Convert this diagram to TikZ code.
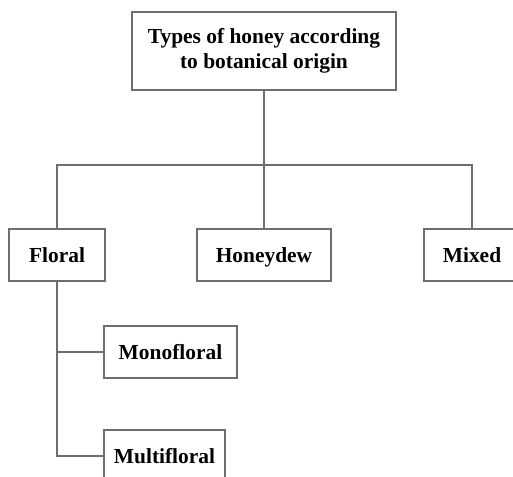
\documentclass[tikz,border=0pt]{standalone}
\usepackage{fontspec}
\setmainfont{Liberation Serif}
\begin{document}
\begin{tikzpicture}[x=1bp,y=-1bp,
  box/.style={draw=linegray,line width=1.4bp,fill=white,inner sep=0pt,align=center,
    font=\fontsize{21.5}{25}\selectfont\bfseries},
  leaf/.style={box,text height=14.3bp,text depth=0pt,minimum height=52bp},
  conn/.style={draw=linegray,line width=1.4bp}]
\definecolor{linegray}{RGB}{110,110,110}
\useasboundingbox (0,0) rectangle (513,477);
\clip (0,0) rectangle (513,477);
\node[box,minimum width=264bp,minimum height=78bp] (top) at (264,51) {Types of honey according\\to botanical origin};
\node[leaf,minimum width=96bp] (floral) at (57,255) {Floral};
\node[leaf,minimum width=134bp] (honeydew) at (264,255) {Honeydew};
\node[leaf,minimum width=96bp] (mixed) at (472,255) {Mixed};
\node[leaf,minimum width=133bp] (mono) at (170.5,352) {Monofloral};
\node[leaf,minimum width=121bp] (multi) at (164.5,456) {Multifloral};
\coordinate (bus) at (264,165);
\draw[conn] (top.south) -- (bus);
\draw[conn] (bus) -- (honeydew.north);
\draw[conn] (floral.north) |- (bus) -| (mixed.north);
\draw[conn] (floral.south) |- (multi.west);
\draw[conn] (floral.south |- mono.west) -- (mono.west);
\end{tikzpicture}
\end{document}
